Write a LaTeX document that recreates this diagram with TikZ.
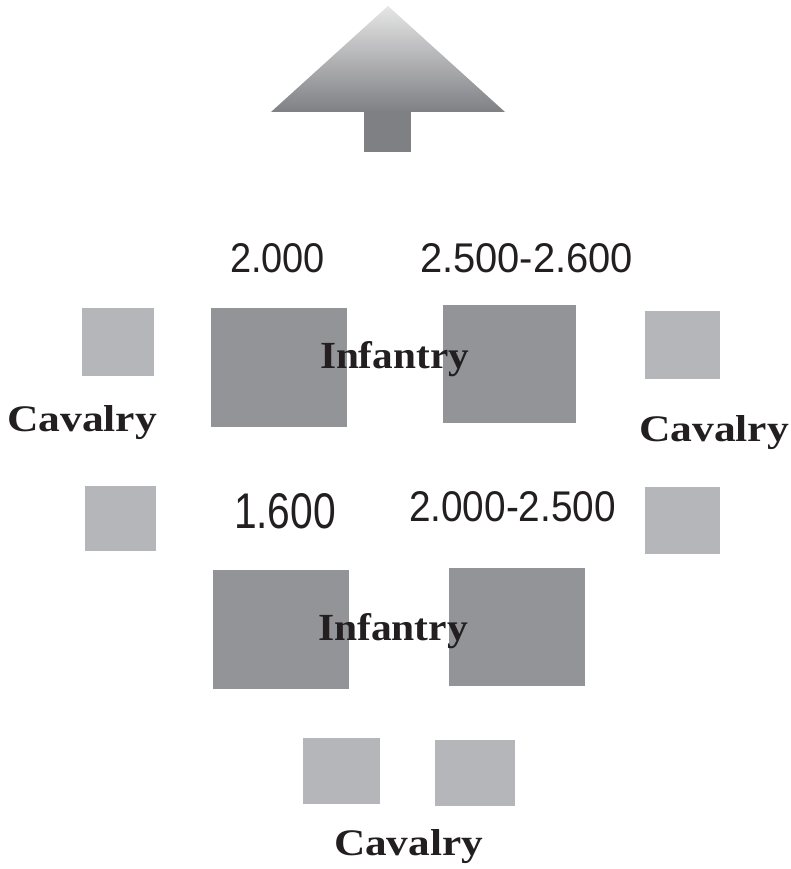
\documentclass[tikz,border=0pt]{standalone}
\usepackage{graphicx}
\usepackage{fontspec}
\newfontfamily\numfont{Liberation Sans}
\newfontfamily\unitfont{Liberation Serif}
\definecolor{infantrygray}{HTML}{939498}
\definecolor{cavalrygray}{HTML}{B5B6B9}
\definecolor{arrowtop}{HTML}{E6E6E6}
\definecolor{arrowmid}{HTML}{9C9DA1}
\definecolor{arrowdark}{HTML}{7F8084}
\definecolor{inkblack}{HTML}{231F20}
\tikzset{
  unit/.style={rectangle, draw=none, inner sep=0pt, outer sep=0pt, anchor=north west},
  infantry/.style={unit, fill=infantrygray},
  cavalry/.style={unit, fill=cavalrygray},
  label text/.style={anchor=base west, inner sep=0pt, outer sep=0pt, text=inkblack},
}
% width, height above the baseline, then the text
\newcommand{\numtext}[3]{\resizebox{#1pt}{#2pt}{\numfont #3}}
\newcommand{\unittext}[3]{\resizebox{#1pt}{#2pt}{\unitfont\bfseries #3}}
\begin{document}
\begin{tikzpicture}[x=1pt, y=-1pt]
\useasboundingbox (0,0) rectangle (790,869);

% direction of advance
\shade[top color=arrowtop, middle color=arrowmid, bottom color=arrowdark]
  (388,6) -- (505,112) -- (271,112) -- cycle;
\fill[arrowdark] (364,111.5) rectangle (411,152);
\coordinate (tip) at (388,6);

% infantry blocks
\node[infantry, minimum width=136pt, minimum height=119pt] (inf1) at (211,308) {};
\node[infantry, minimum width=133pt, minimum height=118pt] (inf2) at (443,305) {};
\node[infantry, minimum width=136pt, minimum height=119pt] (inf3) at (213,570) {};
\node[infantry, minimum width=136pt, minimum height=118pt] (inf4) at (449,568) {};

% cavalry blocks
\node[cavalry, minimum width=72pt, minimum height=68pt] (cav1) at (82,308) {};
\node[cavalry, minimum width=71pt, minimum height=65pt] (cav2) at (85,486) {};
\node[cavalry, minimum width=75pt, minimum height=68pt] (cav3) at (645,311) {};
\node[cavalry, minimum width=75pt, minimum height=67pt] (cav4) at (645,487) {};
\node[cavalry, minimum width=77pt, minimum height=66pt] (cav5) at (303,738) {};
\node[cavalry, minimum width=80pt, minimum height=66pt] (cav6) at (435,740) {};

% strengths
\node[label text] (n1) at (230,272.5) {\numtext{95}{29}{2.000}};
\node[label text] (n2) at (420,272.5) {\numtext{213}{29}{2.500-2.600}};
\node[label text] (n3) at (234,528.3) {\numtext{102}{35}{1.600}};
\node[label text] (n4) at (409,521.7) {\numtext{207}{30}{2.000-2.500}};

% unit names
\node[label text] (t1) at (320,368) {\unittext{149}{27}{Infantry}};
\node[label text] (t2) at (318,640) {\unittext{150}{27}{Infantry}};
\node[label text] (t3) at (7,431) {\unittext{150}{26}{Cavalry}};
\node[label text] (t4) at (639,441) {\unittext{150}{26}{Cavalry}};
\node[label text] (t5) at (334,855) {\unittext{149}{26}{Cavalry}};
\end{tikzpicture}
\end{document}
